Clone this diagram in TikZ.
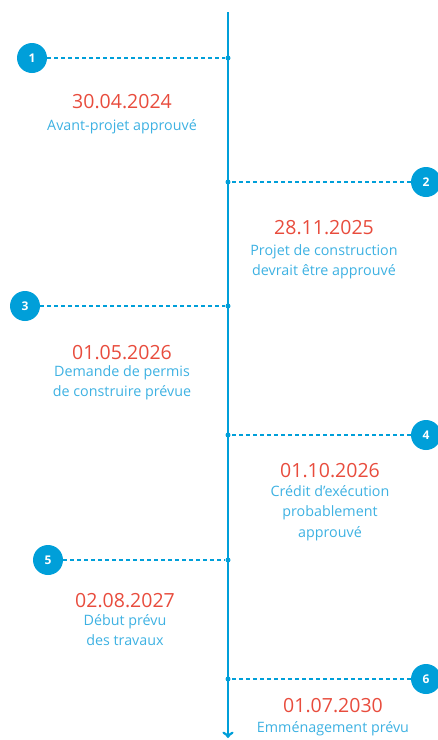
\documentclass[tikz,border=0pt]{standalone}
\usepackage{fontspec}
\setmainfont{Open Sans}
\definecolor{tlblue}{HTML}{009FD9}
\definecolor{tltext}{HTML}{3DB1E2}
\definecolor{tlred}{HTML}{E84C3D}
\begin{document}
\begin{tikzpicture}[x=1pt,y=-1pt,
	dot/.style={fill=tlblue,circle,inner sep=0pt,minimum size=5pt},
	num/.style={fill=tlblue,circle,inner sep=0pt,minimum size=30pt,text=white,font=\bfseries\fontsize{12}{12}\selectfont},
	link/.style={tlblue,dashed,dash pattern=on 4pt off 3pt,line width=1.3pt},
	date/.style={text=tlred,font=\fontsize{19.5}{20}\selectfont},
	desc/.style={text=tltext,align=center,inner sep=0pt,font=\fontsize{14.3}{20.5}\selectfont}]
	\useasboundingbox (0,0) rectangle (438,740);
	\clip (0,0) rectangle (438,740);
	\coordinate (top) at (228,12);
	\coordinate (bottom) at (228,738);
	\draw[tlblue,line width=2.8pt,->] (top) -- (bottom);
	% points on the axis
	\node[dot] (d1) at (228,58) {};
	\node[dot] (d2) at (228,182) {};
	\node[dot] (d3) at (228,306) {};
	\node[dot] (d4) at (228,435) {};
	\node[dot] (d5) at (228,560) {};
	\node[dot] (d6) at (228,679) {};
	% numbered circles
	\node[num] (n1) at (32,58) {1};
	\node[num] (n2) at (426,182) {2};
	\node[num] (n3) at (25,306) {3};
	\node[num] (n4) at (426,435) {4};
	\node[num] (n5) at (48,560) {5};
	\node[num] (n6) at (426,679) {6};
	\draw[link] (n1) -- (d1);
	\draw[link] (n2) -- (d2);
	\draw[link] (n3) -- (d3);
	\draw[link] (n4) -- (d4);
	\draw[link] (n5) -- (d5);
	\draw[link] (n6) -- (d6);
	% dates and texts
	\node[date] (t1) at (122,102) {30.04.2024};
	\node[desc,anchor=north] (e1) at (122,119) {Avant-projet approuvé};
	\node[date] (t2) at (324,228) {28.11.2025};
	\node[desc,anchor=north] (e2) at (324,244) {Projet de construction\\devrait être approuvé};
	\node[date] (t3) at (122,353) {01.05.2026};
	\node[desc,anchor=north] (e3) at (122,365) {Demande de permis\\de construire prévue};
	\node[date] (t4) at (330,471) {01.10.2026};
	\node[desc,anchor=north] (e4) at (330,485) {Crédit d’exécution\\probablement\\approuvé};
	\node[date] (t5) at (125,601) {02.08.2027};
	\node[desc,anchor=north] (e5) at (125,614) {Début prévu\\des travaux};
	\node[date] (t6) at (333,706) {01.07.2030};
	\node[desc,anchor=north] (e6) at (333,721) {Emménagement prévu};
\end{tikzpicture}
\end{document}
